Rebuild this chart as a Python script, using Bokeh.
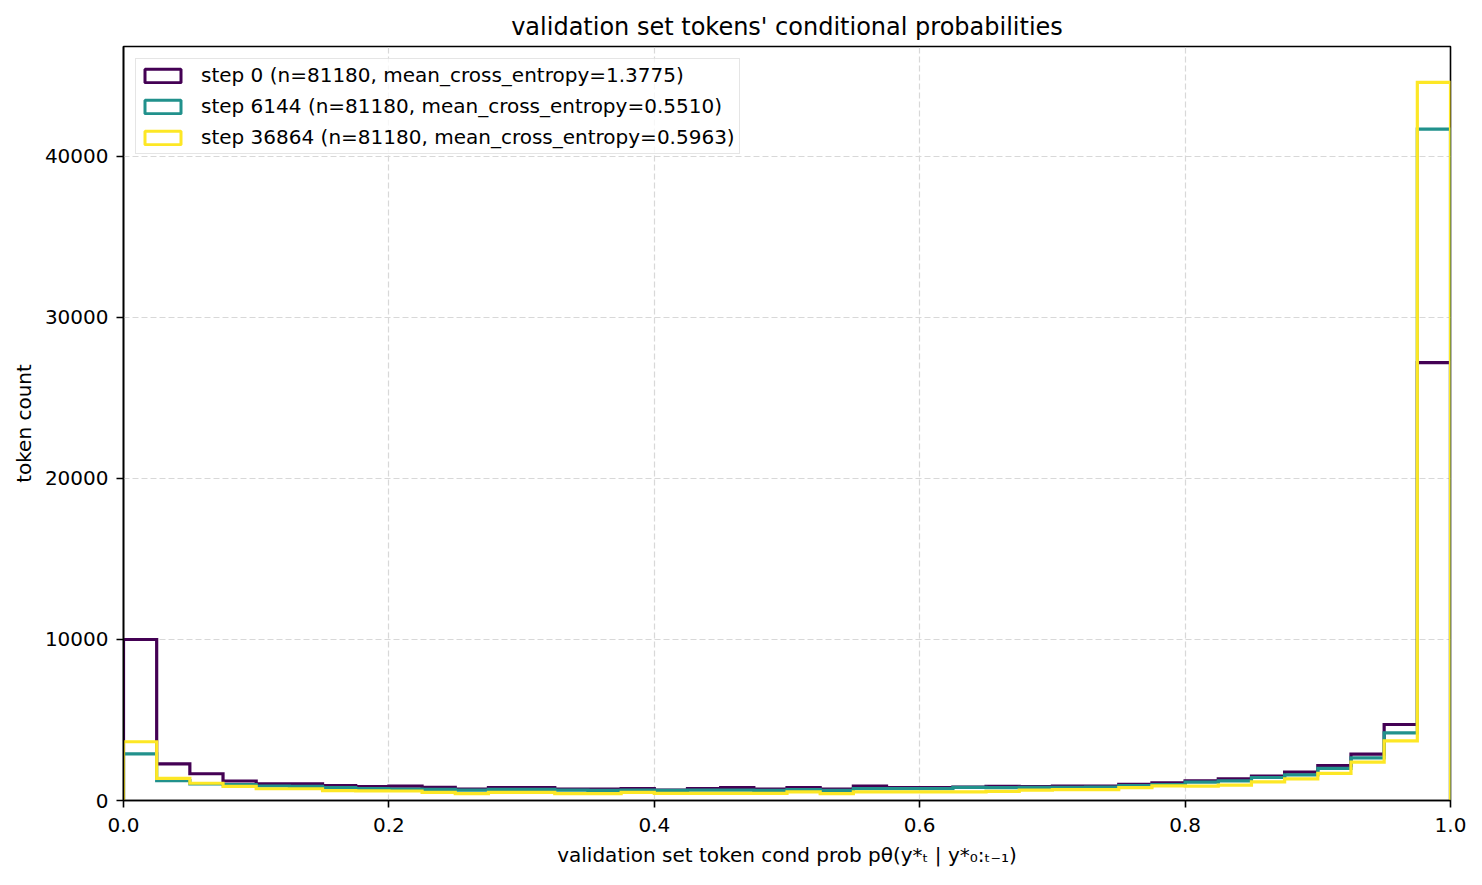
import numpy as np
from bokeh.plotting import figure
from bokeh.models import (Legend, LegendItem, FixedTicker,
                          NumeralTickFormatter, Range1d)
from bokeh.embed import file_html
from bokeh.resources import INLINE

# histogram bins over [0, 1]
n_bins = 40
edges = np.linspace(0.0, 1.0, n_bins + 1)

# token counts per bin
step0 = [10000, 2280, 1660, 1210, 1040, 1030, 920, 870, 890, 820,
         715, 795, 795, 715, 715, 736, 640, 736, 795, 715,
         795, 715, 900, 795, 795, 836, 880, 860, 890, 900,
         1010, 1090, 1220, 1340, 1510, 1760, 2170, 2880, 4720, 27200]
step6144 = [2900, 1230, 1030, 980, 900, 880, 800, 740, 715, 695,
            650, 695, 695, 650, 630, 650, 630, 650, 650, 630,
            670, 630, 736, 736, 736, 820, 795, 810, 810, 830,
            930, 990, 1140, 1220, 1430, 1590, 1990, 2650, 4200, 41700]
step36864 = [3650, 1380, 1070, 880, 730, 730, 610, 600, 590, 508,
             425, 508, 508, 425, 425, 508, 445, 445, 445, 445,
             530, 425, 530, 530, 530, 530, 570, 640, 680, 680,
             805, 910, 890, 950, 1160, 1340, 1680, 2380, 3700, 44600]

labels = ["step 0 (n=81180, mean_cross_entropy=1.3775)",
          "step 6144 (n=81180, mean_cross_entropy=0.5510)",
          "step 36864 (n=81180, mean_cross_entropy=0.5963)"]
colors = ["#440154", "#21918c", "#fde725"]

FONT = "DejaVu Sans"


def step_outline(counts):
    # matplotlib histtype='step' style outline
    xs, ys = [edges[0]], [0]
    for i, c in enumerate(counts):
        xs += [edges[i], edges[i + 1]]
        ys += [c, c]
    xs.append(edges[-1])
    ys.append(0)
    return xs, ys


ymax = max(max(step0), max(step6144), max(step36864)) * 1.05

p = figure(width=1466, height=869, output_backend="svg", toolbar_location=None,
           x_range=Range1d(0, 1), y_range=Range1d(0, ymax),
           title="validation set tokens' conditional probabilities",
           x_axis_label="validation set token cond prob pθ(y*ₜ | y*₀:ₜ₋₁)",
           y_axis_label="token count",
           min_border_left=123, min_border_right=16,
           min_border_top=46, min_border_bottom=60)

p.title.align = "center"
p.title.text_font = FONT
p.title.text_font_size = "24px"
p.title.text_font_style = "normal"
p.title.text_color = "black"
p.title.standoff = 11

items = []
for counts, label, colour in zip([step0, step6144, step36864], labels, colors):
    xs, ys = step_outline(counts)
    p.line(xs, ys, line_color=colour, line_width=3.2, line_join="miter")
    # rectangle swatch for the legend only (nan row, nothing drawn)
    r = p.quad(left=[np.nan], right=[np.nan], top=[np.nan], bottom=[np.nan],
               fill_alpha=0, line_color=colour, line_width=3)
    items.append(LegendItem(label=label, renderers=[r]))

legend = Legend(items=items, location="top_left")
legend.label_text_font = FONT
legend.label_text_font_size = "20px"
legend.label_text_color = "black"
legend.glyph_width = 45
legend.glyph_height = 17
legend.label_standoff = 16
legend.label_height = 18
legend.spacing = 7
legend.padding = 4
legend.margin = 12
legend.border_line_color = "#cccccc"
legend.border_line_width = 1.5
legend.background_fill_alpha = 0.8
p.add_layout(legend)

p.xaxis.ticker = FixedTicker(ticks=[0.0, 0.2, 0.4, 0.6, 0.8, 1.0])
p.xaxis.formatter = NumeralTickFormatter(format="0.0")
p.yaxis.ticker = FixedTicker(ticks=[0, 10000, 20000, 30000, 40000])
p.yaxis.formatter = NumeralTickFormatter(format="0")

for ax in (p.xaxis, p.yaxis):
    ax.major_label_text_font = FONT
    ax.major_label_text_font_size = "20px"
    ax.major_label_text_color = "black"
    ax.axis_label_text_font = FONT
    ax.axis_label_text_font_size = "20px"
    ax.axis_label_text_font_style = "normal"
    ax.axis_label_text_color = "black"
    ax.axis_line_color = "black"
    ax.axis_line_width = 1.6
    ax.major_tick_line_color = "black"
    ax.major_tick_line_width = 1.6
    ax.major_tick_out = 7
    ax.major_tick_in = 0
    ax.minor_tick_line_color = None
p.xaxis.major_label_standoff = 10
p.xaxis.axis_label_standoff = 8
p.yaxis.major_label_standoff = 8
p.yaxis.axis_label_standoff = 6

p.outline_line_color = "black"
p.outline_line_width = 1.6
p.outline_line_alpha = 1

for g in (p.xgrid, p.ygrid):
    g.grid_line_color = "#d8d8d8"
    g.grid_line_dash = "6 3"
    g.grid_line_width = 1.2

open("out.html", "w").write(file_html(p, INLINE))
